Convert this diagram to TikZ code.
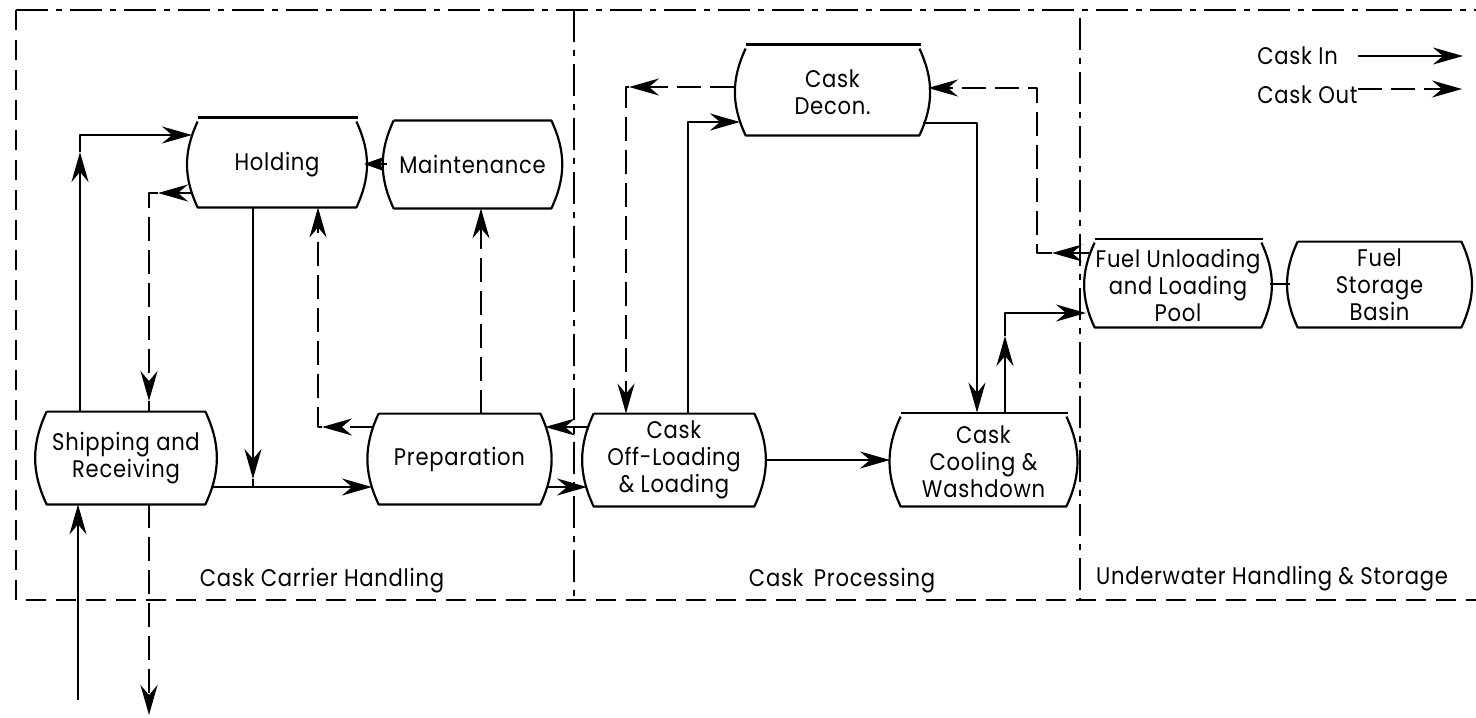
\documentclass[tikz,border=0pt]{standalone}
\usepackage{fontspec}
\setmainfont{Poppins}[FakeStretch=0.88, LetterSpace=3]
\usetikzlibrary{arrows.meta}
\newcommand\barrelbox[1]{\draw[boxline] (#1.north west) -- (#1.north east) to[bend left=25] (#1.south east) -- (#1.south west) to[bend left=25] (#1.north west);}
\newcommand\barrelopen[1]{\draw[boxline] ([yshift=2pt]#1.north west) -- ([yshift=2pt,xshift=1pt]#1.north east);
  \draw[boxline] (#1.north east) to[bend left=25] (#1.south east) -- (#1.south west) to[bend left=25] (#1.north west);}
\begin{document}
\begin{tikzpicture}[x=0.5pt,y=-0.5pt,line join=round,
  every node/.style={font=\fontsize{12}{13.5}\selectfont, align=center, inner sep=0pt},
  stagebox/.style 2 args={minimum width=#1*0.5pt, minimum height=#2*0.5pt},
  boxline/.style={line width=1.1pt},
  cin/.style={line width=1.1pt},
  cout/.style={line width=1.1pt, dash pattern=on 12pt off 4.5pt},
  tip/.style={-{Stealth[length=15pt,width=8.5pt,inset=5pt]}},
  smalltip/.style={-{Stealth[length=10pt,width=7pt,inset=2pt]}},
  frameA/.style={line width=1pt, dash pattern=on 16pt off 4pt on 3pt off 4pt},
  frameB/.style={line width=1pt, dash pattern=on 10pt off 5pt}]
\useasboundingbox (0,0) rectangle (1476,717);

% frame
\coordinate (fTL) at (16,10); \coordinate (fTR) at (1476,10);
\coordinate (fBL) at (16,600); \coordinate (fBR) at (1476,600);
\coordinate (v1t) at (574,10); \coordinate (v1b) at (574,600);
\coordinate (v2t) at (1080,18); \coordinate (v2b) at (1080,600);
\draw[frameA] (fTL) -- (fTR);
\draw[frameB] (fTL) -- (fBL) -- (fBR);
\draw[frameA] (v1t) -- (v1b);
\draw[frameA] (v2t) -- (v2b);

% region labels
\node (r1) at (322,581) {Cask Carrier Handling};
\node (r2) at (842,581) {Cask\, Processing};
\node (r3) at (1272,579) {Underwater Handling \& Storage};

% stages
\node[stagebox={158}{85}] (holding) at (277,164.5) {Holding};
\node[stagebox={157}{87}] (maint) at (472.5,164.5) {Maintenance};
\node[stagebox={158}{92}] (ship) at (126,458) {Shipping and\\Receiving};
\node[stagebox={161}{90}] (prep) at (459.5,459) {Preparation};
\node[stagebox={160}{92}] (offl) at (674,460) {Cask\\Off-Loading\\\& Loading};
\node[stagebox={165}{89}] (cool) at (983.5,461.5) {Cask\\Cooling \&\\Washdown};
\node[stagebox={173}{86}] (decon) at (832.5,92) {Cask\\Decon.};
\node[stagebox={166}{84}] (fuelu) at (1178,285) {Fuel Unloading\\and Loading\\Pool};
\node[stagebox={163}{85}] (fuels) at (1379.5,284.5) {Fuel\\Storage\\Basin};
\barrelopen{holding}
\barrelbox{maint}
\barrelbox{ship}
\barrelbox{prep}
\barrelbox{offl}
\barrelopen{cool}
\barrelopen{decon}
\barrelopen{fuelu}
\barrelbox{fuels}

% legend
\node[anchor=west] (lin) at (1257,56) {Cask In};
\node[anchor=west] (lout) at (1257,95) {Cask Out};
\coordinate (linEnd) at (1463,56);
\coordinate (loutEnd) at (1462,89);
\draw[cin,tip] ([xshift=10pt]lin.east) -- (linEnd);
\draw[cout,tip] (lout.east |- loutEnd) -- (loutEnd);

% external in / out
\coordinate (extIn) at (78,700);
\coordinate (extOut) at (149,715);
\draw[cin,tip] (extIn) -- (extIn |- ship.south);
\draw[cout,tip] (extOut |- ship.south) -- (extOut);

% shipping -> holding
\coordinate (a1) at (80,152); \coordinate (a2) at (80,135); \coordinate (a3) at (192,135);
\draw[cin,tip] (a1 |- ship.north) -- (a1);
\draw[cin,tip] (a1) -- (a2) -- (a3);

% holding -> shipping
\coordinate (b1) at (193,193); \coordinate (b2) at (158,193);
\coordinate (b3) at (149,193); \coordinate (b4) at (149,401);
\draw[cout,tip] (b1) -- (b2);
\draw[cout,tip] (b2) -- (b3) -- (b4);
\draw[cout] (b4) -- (b4 |- ship.north);

% holding -> preparation
\coordinate (c1) at (253,479); \coordinate (c2) at (253,487);
\draw[cin,tip] (c1 |- holding.south) -- (c1);
\draw[cin] (c1) -- (c2);

% shipping -> preparation
\coordinate (d1) at (211,487); \coordinate (d2) at (372,487);
\draw[cin,tip] (d1) -- (d2);

% preparation -> holding
\coordinate (e1) at (374,427); \coordinate (e2) at (322,427); \coordinate (e3) at (318,427);
\draw[cout,tip] (e1) -- (e2);
\draw[cout,tip] (e2) -- (e3) -- (e3 |- holding.south);

% preparation -> maintenance
\coordinate (f1) at (481,300);
\draw[cout,tip] (f1 |- prep.north) -- (f1 |- maint.south);

% maintenance -> holding
\coordinate (g1) at (387,164); \coordinate (g2) at (364,164);
\draw[cin,smalltip] (g1) -- (g2);

% off-loading -> preparation
\coordinate (h1) at (589,427); \coordinate (h2) at (545,427);
\draw[cin,tip] (h1) -- (h2);

% preparation -> off-loading
\coordinate (i1) at (547,487); \coordinate (i2) at (587,487);
\draw[cin,tip] (i1) -- (i2);

% off-loading -> cooling
\coordinate (j1) at (766,460); \coordinate (j2) at (890,460);
\draw[cin,tip] (j1) -- (j2);

% off-loading -> decon
\coordinate (k1) at (688,122); \coordinate (k2) at (740,122);
\draw[cin,tip] (k1 |- offl.north) -- (k1) -- (k2);

% decon -> off-loading
\coordinate (l1) at (734,87); \coordinate (l2) at (629,87); \coordinate (l3) at (626,87);
\draw[cout,tip] (l1) -- (l2);
\draw[cout,tip] (l2) -- (l3) -- (l3 |- offl.north);

% decon -> cooling
\coordinate (coolTop) at ([yshift=2pt]cool.north);
\coordinate (m1) at (923,123); \coordinate (m2) at (977,123);
\draw[cin,tip] (m1) -- (m2) -- (m2 |- coolTop);

% fuel unloading -> decon
\coordinate (n1) at (1089,253); \coordinate (n2) at (1052,253);
\coordinate (n3) at (1037,253); \coordinate (n4) at (1037,88); \coordinate (n5) at (928,88);
\draw[cout,tip] (n1) -- (n2);
\draw[cout,tip] (n2) -- (n3) -- (n4) -- (n5);

% cooling -> fuel unloading
\coordinate (o1) at (1005,336); \coordinate (o2) at (1005,313); \coordinate (o3) at (1086,313);
\draw[cin,tip] (o1 |- coolTop) -- (o1);
\draw[cin,tip] (o1) -- (o2) -- (o3);

% fuel unloading -- fuel storage
\coordinate (p1) at (1270,284); \coordinate (p2) at (1290,284);
\draw[cin] (p1) -- (p2);
\end{tikzpicture}
\end{document}
